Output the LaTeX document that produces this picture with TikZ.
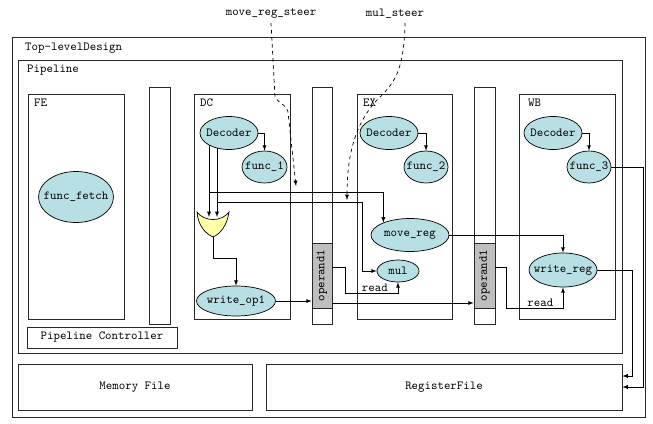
\documentclass[tikz,border=0pt]{standalone}
\usepackage{fontspec}
\usepackage{tikz}
\usetikzlibrary{positioning}
\usetikzlibrary{arrows,shapes}
\usetikzlibrary{calc}
\definecolor{unitcolor}{RGB}{184,224,228}
\definecolor{muxcolor}{RGB}{255,255,168}
\definecolor{opcolor}{RGB}{190,190,190}
\definecolor{linecolor}{RGB}{40,40,40}
\tikzstyle{block}=[rectangle,draw=linecolor,line width=0.6pt,inner sep=0pt,font=\ttfamily\fontsize{10.5}{11}\selectfont]
\tikzstyle{opblock}=[rectangle,draw=linecolor,fill=opcolor,line width=0.6pt,inner sep=0pt]
\tikzstyle{unit}=[ellipse,fill=unitcolor,draw=black,line width=0.6pt,inner sep=0pt,font=\ttfamily\fontsize{10.5}{11}\selectfont]
\tikzstyle{edge} = [draw,line width=0.6pt,->,>=latex]
\tikzstyle{steer} = [draw,line width=0.6pt,dashed,->,>=latex]
\tikzstyle{weight} = [font=\ttfamily\fontsize{10.5}{11}\selectfont]

\begin{document}
\begin{tikzpicture}[x=0.03cm, y=-0.03cm]
    \useasboundingbox (0,0) rectangle (653,423);
    % First we draw the boxes
    \foreach \pos/\name/\w/\h in {{(328.5,227)/top/633/380}, {(320,206.5)/pipe/604/293},
    {(76,206.5)/fe/96/225}, {(242,206.5)/dc/96/225}, {(404.5,206.5)/ex/95/225}, {(567,206.5)/wb/96/225},
    {(159.5,205.5)/bar1/21/237}, {(322,205.5)/bar2/20/237}, {(484.5,205.5)/bar3/21/237}}
        \node[block, minimum width=\w*0.03cm, minimum height=\h*0.03cm] (\name) at \pos { };

    \node[block, minimum width=4.5cm, minimum height=0.63cm] (ctrl) at (102,337.5) {Pipeline Controller};
    \node[block, minimum width=7.02cm, minimum height=1.38cm] (mem) at (135,387) {Memory File};
    \node[block, minimum width=10.68cm, minimum height=1.38cm] (regf) at (444,387) {RegisterFile};

    \foreach \pos/\name/\txt in {{(25,48)/ttop/Top-levelDesign}, {(27,70)/tpipe/Pipeline},
    {(34,103)/tfe/FE}, {(200,103)/tdc/DC}, {(363,103)/tex/EX}, {(528,103)/twb/WB}}
        \node[weight, anchor=west, inner sep=0pt] (\name) at \pos {\txt};

    % operand registers in the bars
    \node[opblock, minimum width=0.6cm, minimum height=1.95cm] (op2) at (322,275.5) { };
    \node[opblock, minimum width=0.63cm, minimum height=1.95cm] (op3) at (484.5,275.5) { };
    \node[weight, rotate=90] (op2txt) at (op2) {operand1};
    \node[weight, rotate=90] (op3txt) at (op3) {operand1};

    % Then the functional units
    \foreach \pos/\name/\w/\h/\txt in {{(76,197)/fetch/75/51/func\_fetch},
    {(229,133)/dcdec/58/33/Decoder}, {(264.5,167)/func1/45/32/func\_1}, {(236,301)/writeop/79/30/write\_op1},
    {(389,133)/exdec/58/33/Decoder}, {(426,167)/func2/44/32/func\_2}, {(410,235)/movereg/78/33/move\_reg}, {(398,271)/mul/42/22/mul},
    {(553,133)/wbdec/58/33/Decoder}, {(589,167)/func3/44/32/func\_3}, {(563,270)/writereg/68/34/write\_reg}}
        \node[unit, minimum width=\w*0.03cm, minimum height=\h*0.03cm] (\name) at \pos {\makebox[0pt]{\txt}};

    % the merge in DC
    \draw[fill=muxcolor, draw=black, line width=0.6pt] (197,212) .. controls (198,226) and (206,234) .. (213,237)
        .. controls (220,234) and (227,226) .. (229,212) .. controls (222,222) and (204,222) .. (197,212) -- cycle;
    \coordinate (muxinL) at (209,217);
    \coordinate (muxinR) at (217,217);
    \coordinate (muxout) at (213,237);
    \coordinate (brA) at (209,192);
    \coordinate (brB) at (217,202);

    % Connect units with edges
    \foreach \source/\dest in {dcdec/func1, exdec/func2, wbdec/func3}
        \path[edge] (\source.east) -| (\dest.north);
    \path[edge] (muxinL |- dcdec.211) -- (muxinL);
    \path[edge] (muxinR |- dcdec.231) -- (muxinR);
    \path[edge] (brA) -| (movereg.155);
    \path[edge] (brB) -| ([xshift=-0.42cm]mul.west) -- (mul.west);
    \path[edge] (muxout) -- ++(0,21) -| (writeop.north);
    \path[edge] (writeop.east) -- (writeop.east -| op2.west);
    \path[edge] ([yshift=0.255cm]op2.east) -| ++(13,26) -| node[weight, pos=0.28, above, inner sep=1pt] (read1) {read} (mul.south);
    \path[edge] ([yshift=-0.825cm]op2.east) -- ([yshift=-0.825cm]op3.west);
    \path[edge] (movereg.east) -| (writereg.north);
    \path[edge] ([yshift=0.255cm]op3.east) -| ++(11,41) -| node[weight, pos=0.3, above, inner sep=1pt] (read2) {read} (writereg.south);
    \path[edge] (func3.east) -- ++(32,0) |- (regf.east);
    \path[edge] (writereg.east) -- ++(35,0) |- ([yshift=0.33cm]regf.east);

    % steering signals
    \node[weight] (mrsteer) at (271,14) {move\_reg\_steer};
    \node[weight] (mulsteer) at (395,14) {mul\_steer};
    \coordinate (mrtip) at (296,186);
    \coordinate (multip) at (347,200);
    \path[steer] (mrsteer.south) -- (275,97) .. controls (278,103) and (286,104) .. (288,112) -- (mrtip);
    \path[steer] ([xshift=0.3cm]mulsteer.south) .. controls (404,75) and (392,85) .. (377,100)
        .. controls (357,122) and (347,150) .. (multip);
\end{tikzpicture}
\end{document}
